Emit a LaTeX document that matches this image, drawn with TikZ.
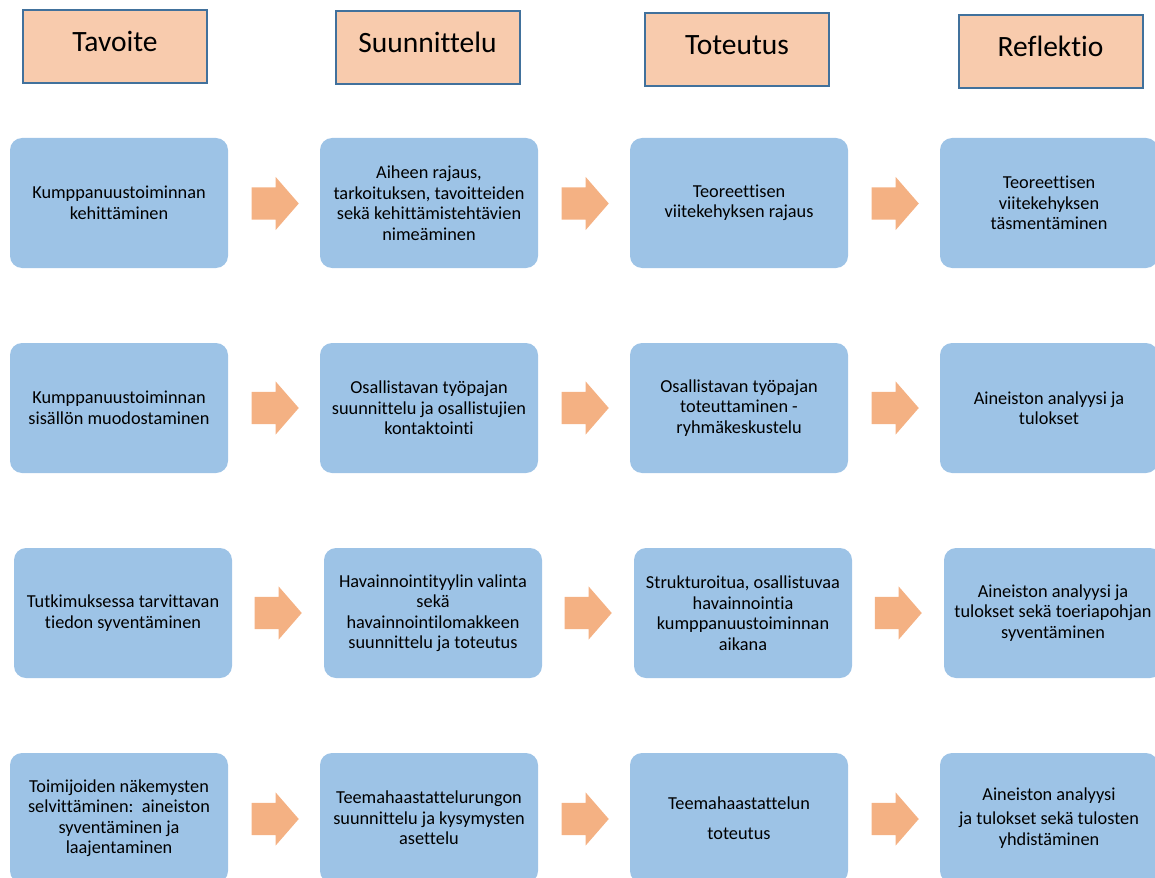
\documentclass[tikz,border=0pt]{standalone}
\usepackage{fontspec}
\setmainfont{Carlito}[Ligatures=NoCommon]
\usetikzlibrary{shapes.arrows}

\definecolor{phasefill}{RGB}{248,203,173}
\definecolor{phaseline}{RGB}{65,113,156}
\definecolor{taskfill}{RGB}{157,195,230}
\definecolor{flowfill}{RGB}{244,177,131}

\begin{document}
\begin{tikzpicture}[x=1pt, y=-1pt]
        \tikzstyle{phase}=[rectangle,draw=phaseline,line width=2pt,fill=phasefill,minimum width=184pt,minimum height=73pt,text height=21pt,text depth=11pt,font=\fontsize{29.5}{31}\selectfont]
        \tikzstyle{task}=[rectangle,rounded corners=12pt,fill=taskfill,minimum width=218pt,minimum height=130pt,inner sep=2pt,align=center,font=\fontsize{18.3}{20.5}\selectfont]
        \tikzstyle{flow}=[single arrow,anchor=tip,fill=flowfill,minimum height=47pt,inner xsep=0pt,inner ysep=16pt,single arrow head extend=10.5pt,single arrow tip angle=98]

        \clip (0,0) rectangle (1155,877);

        % phases
        \node[phase] (P_1) at (115,46.5) {Tavoite};
        \node[phase] (P_2) at (427.5,47.5) {Suunnittelu};
        \node[phase] (P_3) at (737,49.5) {Toteutus};
        \node[phase] (P_4) at (1050.5,51.5) {Reflektio};

        % row 1
        \node[task] (T_11) at (119,203) {Kumppanuustoiminnan\\kehittäminen};
        \node[task] (T_12) at (429,203) {Aiheen rajaus,\\tarkoituksen, tavoitteiden\\sekä kehittämistehtävien\\nimeäminen};
        \node[task] (T_13) at (739,203) {Teoreettisen\\viitekehyksen rajaus};
        \node[task] (T_14) at (1049,203) {Teoreettisen\\viitekehyksen\\täsmentäminen};
        \node[flow] (F_11) at (299,203.5) {};
        \node[flow] (F_12) at (609,203.5) {};
        \node[flow] (F_13) at (919,203.5) {};

        % row 2
        \node[task] (T_21) at (119,408) {Kumppanuustoiminnan\\sisällön muodostaminen};
        \node[task] (T_22) at (429,408) {Osallistavan työpajan\\suunnittelu ja osallistujien\\kontaktointi};
        \node[task] (T_23) at (739,408) {Osallistavan työpajan\\toteuttaminen -\\ryhmäkeskustelu};
        \node[task] (T_24) at (1049,408) {Aineiston analyysi ja\\tulokset};
        \node[flow] (F_21) at (299,408) {};
        \node[flow] (F_22) at (609,408) {};
        \node[flow] (F_23) at (919,408) {};

        % row 3
        \node[task] (T_31) at (123,613) {Tutkimuksessa tarvittavan\\tiedon syventäminen};
        \node[task] (T_32) at (433,613) {Havainnointityylin valinta\\sekä\\havainnointilomakkeen\\suunnittelu ja toteutus};
        \node[task] (T_33) at (743,613) {Strukturoitua, osallistuvaa\\havainnointia\\kumppanuustoiminnan\\aikana};
        \node[task] (T_34) at (1053,613) {Aineiston analyysi ja\\tulokset sekä toeriapohjan\\syventäminen};
        \node[flow] (F_31) at (302,613) {};
        \node[flow] (F_32) at (612,613) {};
        \node[flow] (F_33) at (922,613) {};

        % row 4
        \node[task] (T_41) at (119,818) {Toimijoiden näkemysten\\selvittäminen:\ \ aineiston\\syventäminen ja\\laajentaminen};
        \node[task] (T_42) at (429,818) {Teemahaastattelurungon\\suunnittelu ja kysymysten\\asettelu};
        \node[task] (T_43) at (739,818) {Teemahaastattelun\\[9pt]toteutus};
        \node[task] (T_44) at (1049,818) {Aineiston analyysi\\[4pt]ja tulokset sekä tulosten\\yhdistäminen};
        \node[flow] (F_41) at (299,819) {};
        \node[flow] (F_42) at (609,819) {};
        \node[flow] (F_43) at (919,819) {};
\end{tikzpicture}
\end{document}
